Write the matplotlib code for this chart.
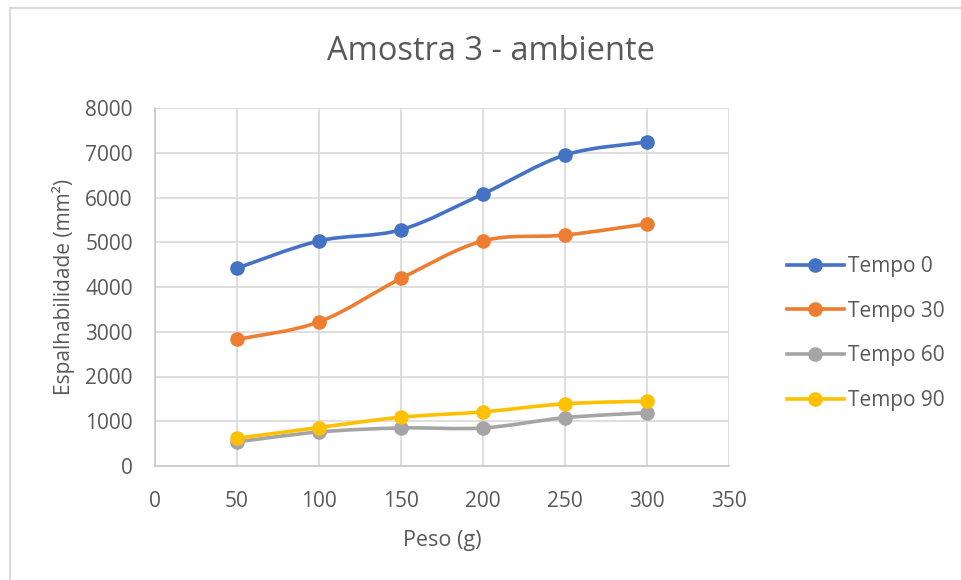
import matplotlib
matplotlib.use('Agg')
import matplotlib.pyplot as plt
from matplotlib.path import Path
from matplotlib.patches import PathPatch, Rectangle
from matplotlib.lines import Line2D
import numpy as np

plt.rcParams['font.family'] = ['Open Sans', 'DejaVu Sans']

# data
peso = [50, 100, 150, 200, 250, 300]
tempo_0 = [4420, 5030, 5280, 6080, 6950, 7240]
tempo_30 = [2830, 3220, 4190, 5030, 5160, 5410]
tempo_60 = [540, 760, 850, 850, 1080, 1190]
tempo_90 = [620, 860, 1090, 1210, 1390, 1450]
series_names = ['Tempo 0', 'Tempo 30', 'Tempo 60', 'Tempo 90']
x_ticks = [0, 50, 100, 150, 200, 250, 300, 350]
y_ticks = [0, 1000, 2000, 3000, 4000, 5000, 6000, 7000, 8000]

COLORS = ['#4472c4', '#ed7d31', '#a5a5a5', '#ffc000']
TXT = '#595959'
GRID = '#d9d9d9'


def smooth_path(x, y, k=1/6):
    # Excel style smoothed line: Catmull-Rom as cubic bezier segments
    x = np.asarray(x, float)
    y = np.asarray(y, float)
    n = len(x)
    verts = [(x[0], y[0])]
    codes = [Path.MOVETO]
    for i in range(n - 1):
        p0 = i - 1 if i > 0 else i
        p3 = i + 2 if i + 2 < n else i + 1
        c1 = (x[i] + (x[i + 1] - x[p0]) * k, y[i] + (y[i + 1] - y[p0]) * k)
        c2 = (x[i + 1] - (x[p3] - x[i]) * k, y[i + 1] - (y[p3] - y[i]) * k)
        verts += [c1, c2, (x[i + 1], y[i + 1])]
        codes += [Path.CURVE4] * 3
    return Path(verts, codes)


fig = plt.figure(figsize=(9.61, 5.8), dpi=100)
# chart border: only left and top edges fall inside the picture
fig.patches.append(Rectangle((10 / 961, -0.1), 1.2, 1 - 8 / 580 + 0.1, transform=fig.transFigure,
                             fill=False, edgecolor=GRID, linewidth=1.5))
ax = fig.add_axes([155 / 961, 1 - 466 / 580, (729 - 155) / 961, (466 - 108) / 580])

handles = []
for vals, col, name in zip([tempo_0, tempo_30, tempo_60, tempo_90], COLORS, series_names):
    ax.add_patch(PathPatch(smooth_path(peso, vals), facecolor='none', edgecolor=col,
                           linewidth=2.6, capstyle='round', zorder=3))
    ax.plot(peso, vals, linestyle='none', marker='o', markersize=9.5, color=col, zorder=4)
    handles.append(Line2D([], [], color=col, linewidth=2.6, marker='o', markersize=9.5, label=name))

ax.set_xlim(0, 350)
ax.set_ylim(0, 8000)
ax.set_xticks(x_ticks)
ax.set_yticks(y_ticks)
ax.grid(True, color=GRID, linewidth=1.2)
ax.set_axisbelow(True)
for s in ['top', 'right']:
    ax.spines[s].set_visible(False)
for s in ['bottom', 'left']:
    ax.spines[s].set_color('#c8c8c8')
    ax.spines[s].set_linewidth(1.2)
ax.tick_params(length=0, labelsize=15, colors=TXT)
ax.tick_params(axis='x', pad=18)
ax.tick_params(axis='y', pad=16)

# title is centred on the whole chart, not on the plot area
fig.text(491 / 961, 1 - 52 / 580, 'Amostra 3 - ambiente', fontsize=23.5, color=TXT,
         ha='center', va='center')
ax.set_xlabel('Peso (g)', fontsize=15.5, color=TXT, labelpad=13)
ax.set_ylabel('Espalhabilidade (mm²)', fontsize=15, color=TXT, labelpad=7)

fig.legend(handles=handles, loc='center left', bbox_to_anchor=(779 / 961, 1 - 333.5 / 580),
           frameon=False, fontsize=15, labelcolor=TXT, handlelength=2.7,
           handletextpad=0.2, labelspacing=1.13, borderaxespad=0)

fig.savefig('out.png', dpi=100, facecolor='white')
